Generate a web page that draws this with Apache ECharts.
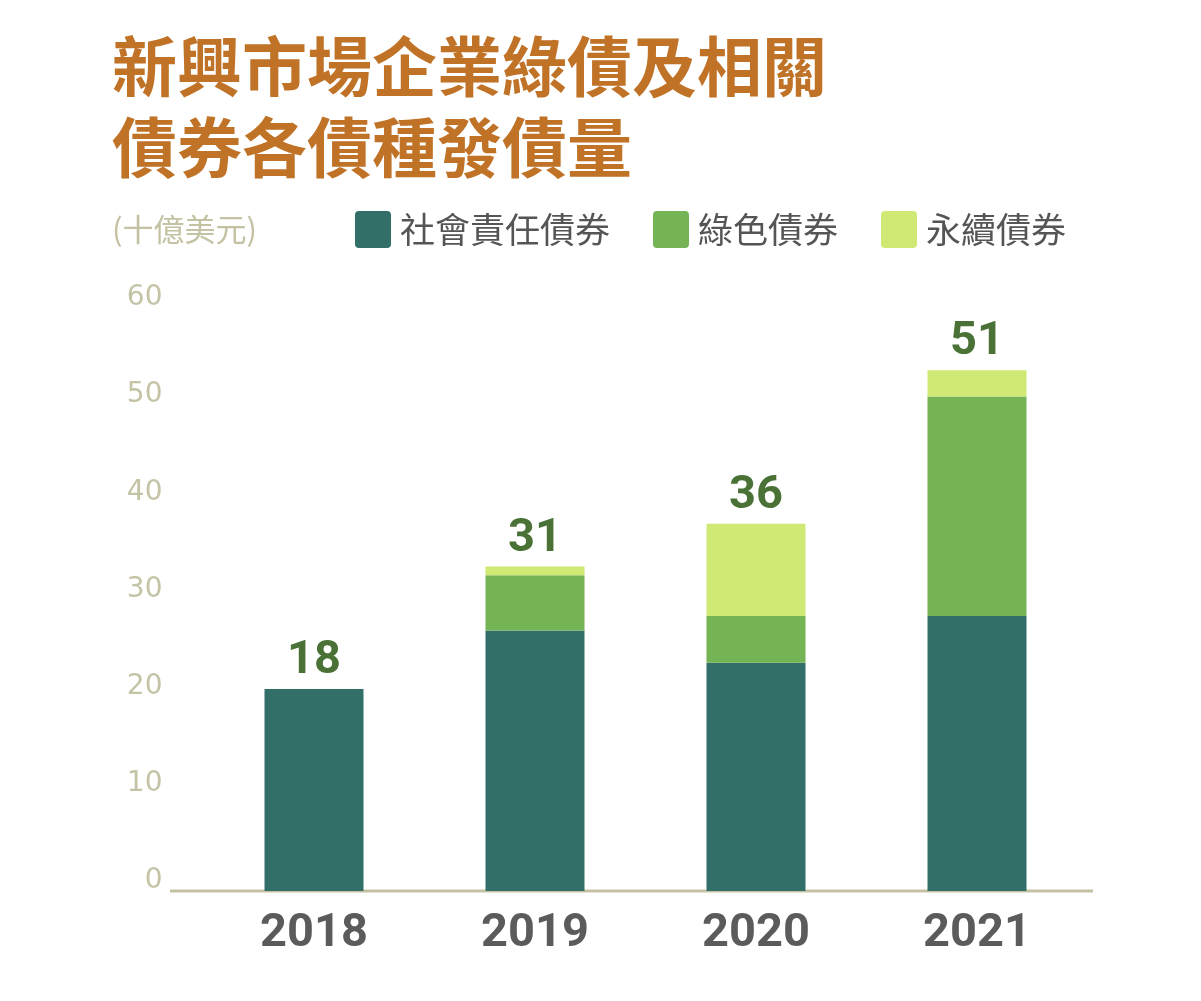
<!DOCTYPE html>
<html>
<head>
<meta charset="utf-8">
<script src="https://cdn.jsdelivr.net/npm/echarts@6/dist/echarts.min.js"></script>
<style>
html, body { margin: 0; padding: 0; background: #fff; }
#box { width: 1201px; height: 1001px; }
</style>
</head>
<body>
<div id="box"></div>
<script>
// 年份與各債種發債量（十億美元）
var years = ['2018', '2019', '2020', '2021'];
var socialBonds = [20.8, 26.8, 23.5, 28.3];
var greenBonds = [0, 5.7, 4.8, 22.6];
var sustainBonds = [0, 0.9, 9.5, 2.7];
var totals = [18, 31, 36, 51];
var yTicks = [0, 10, 20, 30, 40, 50, 60];

var dom = document.getElementById('box');
var myChart = echarts.init(dom);

var cjk = '"Noto Sans CJK TC", "Noto Sans CJK SC", sans-serif';
// 圖例方塊：小圓角
var boxIcon = 'path://M4,0 H32 Q36,0 36,4 V33 Q36,37 32,37 H4 Q0,37 0,33 V4 Q0,0 4,0 Z';

option = {
    backgroundColor: '#ffffff',
    animation: false,
    title: {
        text: '新興市場企業綠債及相關\n債券各債種發債量',
        left: 107,
        top: 21,
        textStyle: {
            fontFamily: cjk,
            fontSize: 65,
            fontWeight: 'bold',
            lineHeight: 81,
            color: '#c07327'
        }
    },
    legend: {
        left: 350,
        top: 206,
        itemWidth: 36,
        itemHeight: 37,
        itemGap: 43,
        icon: boxIcon,
        textStyle: {
            fontFamily: cjk,
            fontSize: 35,
            color: '#555555',
            padding: [0, 0, 4, 4]
        },
        data: ['社會責任債券', '綠色債券', '永續債券']
    },
    graphic: [
        {
            type: 'text',
            left: 112,
            top: 214,
            style: {
                text: '(十億美元)',
                font: '31px "Noto Sans CJK TC", sans-serif',
                fill: '#c4c2a3'
            }
        },
        {
            type: 'line',
            shape: { x1: 170, y1: 891, x2: 1093, y2: 891 },
            style: { stroke: '#c4c2a3', lineWidth: 3 }
        }
    ],
    grid: {
        left: 203.5,
        right: 113.5,
        top: 308,
        bottom: 110
    },
    xAxis: {
        type: 'category',
        data: years,
        axisLine: { show: false },
        axisTick: { show: false },
        axisLabel: {
            margin: 20,
            fontFamily: 'Roboto, sans-serif',
            fontSize: 47,
            fontWeight: 'bold',
            color: '#5b5b5b'
        }
    },
    yAxis: {
        type: 'value',
        min: yTicks[0],
        max: yTicks[yTicks.length - 1],
        interval: 10,
        splitLine: { show: false },
        axisLine: { show: false },
        axisTick: { show: false },
        axisLabel: {
            margin: 41,
            fontFamily: '"DejaVu Sans", sans-serif',
            fontSize: 28,
            color: '#c5c3a5',
            verticalAlign: 'bottom',
            lineHeight: 20
        }
    },
    series: [
        {
            name: '社會責任債券',
            type: 'bar',
            stack: 'total',
            barWidth: 99,
            itemStyle: { color: '#336f69' },
            data: socialBonds
        },
        {
            name: '綠色債券',
            type: 'bar',
            stack: 'total',
            itemStyle: { color: '#74b454' },
            data: greenBonds
        },
        {
            name: '永續債券',
            type: 'bar',
            stack: 'total',
            itemStyle: { color: '#d0e975' },
            label: {
                show: true,
                position: 'top',
                distance: 4,
                fontFamily: 'Roboto, sans-serif',
                fontSize: 47,
                fontWeight: 'bold',
                color: '#4a7236',
                formatter: function (p) { return totals[p.dataIndex]; }
            },
            data: sustainBonds
        }
    ]
};

if (option && typeof option === "object") {
    myChart.setOption(option, true);
}
</script>
</body>
</html>
